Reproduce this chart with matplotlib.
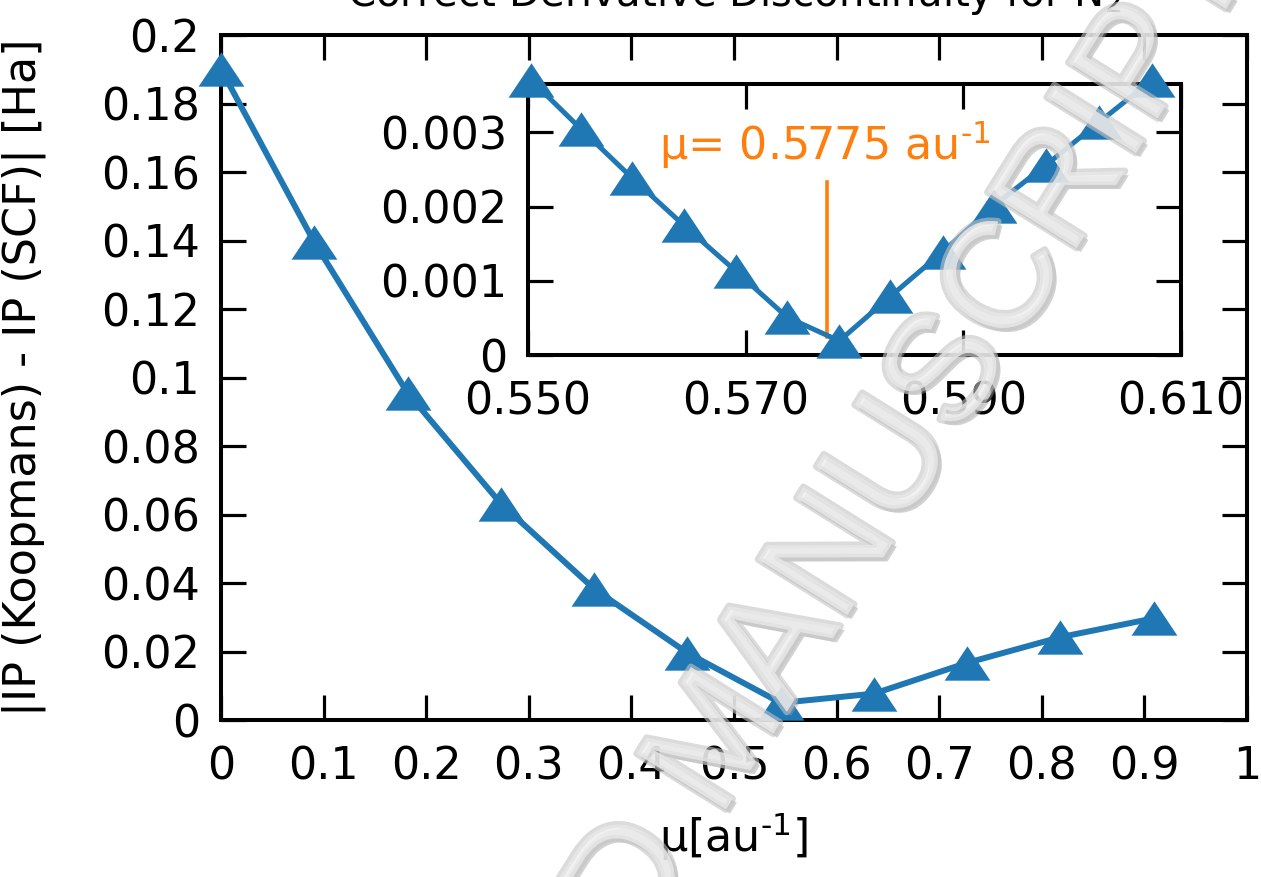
import matplotlib
matplotlib.use("Agg")
import matplotlib.pyplot as plt
import matplotlib.patheffects as pe
from matplotlib.ticker import FormatStrFormatter, MultipleLocator

# main curve: mu values and |IP(Koopmans) - IP(SCF)|
mu = [0.0, 0.0909, 0.1818, 0.2727, 0.3636, 0.4545, 0.5455, 0.6364, 0.7273, 0.8182, 0.9091]
dip = [0.190, 0.1395, 0.0955, 0.0632, 0.0383, 0.0196, 0.0050, 0.0077, 0.0167, 0.0242, 0.0297]

# inset (zoom around the minimum)
mu_zoom = [0.5503, 0.5549, 0.5596, 0.5643, 0.5691, 0.5738, 0.5786,
           0.5833, 0.5881, 0.5928, 0.5976, 0.6025, 0.6073]
dip_zoom = [0.00370, 0.00304, 0.00238, 0.00175, 0.00113, 0.00051, 0.00019,
            0.00079, 0.00139, 0.00201, 0.00256, 0.00314, 0.00370]
mu_opt = 0.5775
opt_line = [0.00024, 0.00233]

blue = "#1f77b4"
orange = "#ff7f0e"
fs = 32
tri = [(0, 0.75), (-1, -0.75), (1, -0.75)]

plt.rcParams["font.family"] = "DejaVu Sans"

fig = plt.figure(figsize=(12.61, 8.77), dpi=100)

def style_axes(ax):
    for s in ax.spines.values():
        s.set_linewidth(2.9)
    ax.tick_params(which="both", direction="in", top=True, right=True,
                   length=18, width=2.3, labelsize=fs, pad=18)
    ax.tick_params(axis="y", pad=15)

ax = fig.add_axes([0.1753, 0.179, 0.8136, 0.781])
ax.plot(mu, dip, color=blue, lw=4.3, marker=tri, ms=33, mew=0, clip_on=False, zorder=3)
ax.set_xlim(0, 1)
ax.set_ylim(0, 0.2)
ax.xaxis.set_major_locator(MultipleLocator(0.1))
ax.yaxis.set_major_locator(MultipleLocator(0.02))
ax.xaxis.set_major_formatter(FormatStrFormatter("%g"))
ax.yaxis.set_major_formatter(FormatStrFormatter("%g"))
style_axes(ax)
ax.set_xlabel(r"μ[au$^{\text{-1}}$]", fontsize=fs, labelpad=16)
ax.set_ylabel("|IP (Koopmans) - IP (SCF)| [Ha]", fontsize=fs, labelpad=40)
ax.set_title(r"Correct Derivative Discontinuity for N$_2$", fontsize=29, pad=21)

ins = fig.add_axes([0.4187, 0.5952, 0.5179, 0.309])
ins.plot(mu_zoom, dip_zoom, color=blue, lw=3.6, marker=tri, ms=33, mew=0, clip_on=False, zorder=3)
ins.plot([mu_opt, mu_opt], opt_line, color=orange, lw=2.6, zorder=2)
ins.text(0.5620, 0.00262, r"μ= 0.5775 au$^{\text{-1}}$", color=orange, fontsize=32,
         ha="left", va="baseline")
ins.set_xlim(0.55, 0.61)
ins.set_ylim(0, 0.00365)
ins.set_xticks([0.55, 0.57, 0.59, 0.61])
ins.set_yticks([0, 0.001, 0.002, 0.003])
ins.xaxis.set_major_formatter(FormatStrFormatter("%.3f"))
ins.yaxis.set_major_formatter(FormatStrFormatter("%g"))
style_axes(ins)

# watermark
fig.text(722 / 1261, 1 - 742 / 877, "ACCEPTED MANUSCRIPT", fontsize=110,
         family="Liberation Sans", color="#efefef", alpha=0.6, rotation=58,
         rotation_mode="anchor", ha="center", va="center", zorder=10,
         path_effects=[pe.SimplePatchShadow(offset=(3, -3), shadow_rgbFace="#9c9c9c", alpha=0.45),
                       pe.withStroke(linewidth=5, foreground="#c4c4c4")])

fig.savefig("out.png", dpi=100)
